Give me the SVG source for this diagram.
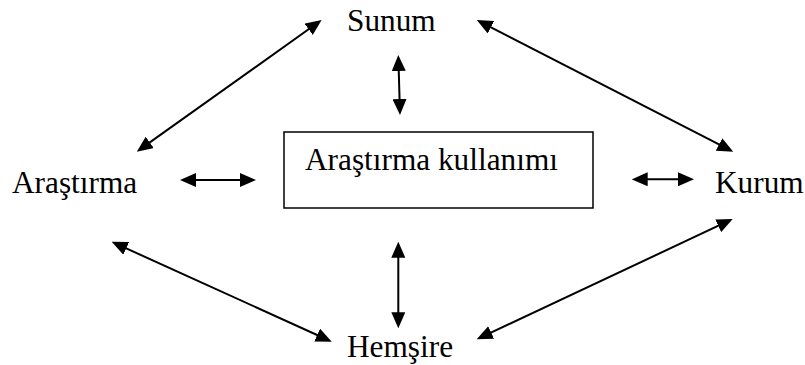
<svg xmlns="http://www.w3.org/2000/svg" width="805" height="365" viewBox="0 0 805 365">
<style>
text{font-family:"Liberation Serif","Times New Roman",serif;font-size:31.3px;fill:#000}
.c line{stroke:#000;stroke-width:2;marker-start:url(#ah);marker-end:url(#ah)}
</style>
<defs>
<marker id="ah" markerUnits="userSpaceOnUse" markerWidth="16" markerHeight="14" refX="12" refY="7" orient="auto-start-reverse" viewBox="0 0 16 14">
<path d="M0,0 L16,7 L0,14 z" fill="#000"/>
</marker>
</defs>
<rect width="805" height="365" fill="#fff"/>
<g id="sunum"><text x="347" y="31">Sunum</text></g>
<g id="arastirma"><text x="12" y="193">Araştırma</text></g>
<g id="kurum"><text x="715" y="193">Kurum</text></g>
<g id="hemsire"><text x="347" y="357">Hemşire</text></g>
<g id="kullanim"><rect x="284" y="132" width="309" height="76" fill="#fff" stroke="#000" stroke-width="1.5"/><text x="305" y="170">Araştırma kullanımı</text></g>
<g class="c" id="connectors">
<line x1="318.4" y1="22.3" x2="140" y2="149.4"/>
<line x1="398.4" y1="59" x2="399.9" y2="111"/>
<line x1="184" y1="180" x2="252" y2="180"/>
<line x1="480.3" y1="21.8" x2="729.7" y2="149.9"/>
<line x1="635.7" y1="179.3" x2="690" y2="179.3"/>
<line x1="115.3" y1="243.4" x2="328.1" y2="340"/>
<line x1="398.3" y1="245.7" x2="398.3" y2="324.3"/>
<line x1="729.1" y1="220.7" x2="480.3" y2="337.6"/>
</g>
</svg>
